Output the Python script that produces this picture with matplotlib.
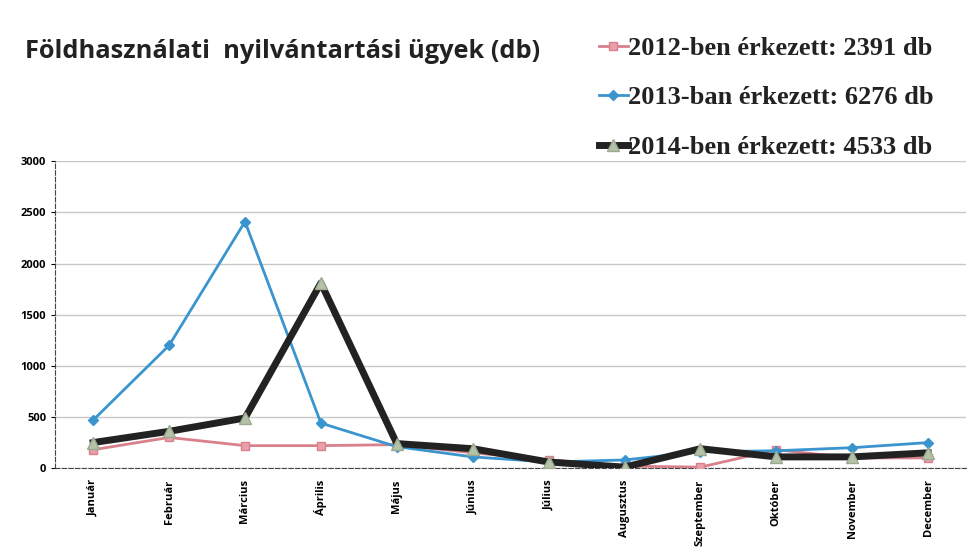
import matplotlib
matplotlib.use("Agg")
import matplotlib.pyplot as plt

months = ["Január", "Február", "Március", "Április", "Május", "Június",
          "Július", "Augusztus", "Szeptember", "Október", "November", "December"]
s2012 = [180, 300, 220, 220, 230, 150, 80, 20, 10, 180, 100, 100]
s2013 = [470, 1200, 2410, 440, 210, 110, 60, 80, 160, 170, 200, 250]
s2014 = [250, 360, 490, 1810, 240, 190, 60, 10, 190, 110, 110, 150]
labels = ["2012-ben érkezett: 2391 db", "2013-ban érkezett: 6276 db", "2014-ben érkezett: 4533 db"]
yticks = [0, 500, 1000, 1500, 2000, 2500, 3000]

fig = plt.figure(figsize=(9.69, 5.56), dpi=100)
ax = fig.add_axes([0.057, 0.158, 0.94, 0.552])
x = list(range(len(months)))

c12 = "#d9808c"
c13 = "#3a95cf"
c14 = "#222222"

l12, = ax.plot(x, s2012, color=c12, lw=2, marker="s", ms=6, mfc="#e8a0aa", mec=c12, zorder=3)
l13, = ax.plot(x, s2013, color=c13, lw=2, marker="D", ms=5, mfc=c13, mec=c13, zorder=4)
l14, = ax.plot(x, s2014, color=c14, lw=5, marker="^", ms=9, mfc="#b5c2a8", mec="#9aaa90", zorder=5)

ax.set_xlim(-0.5, 11.5)
ax.set_ylim(0, 3000)
ax.set_yticks(yticks)
ax.set_yticklabels([str(v) for v in yticks], fontsize=8, fontweight="bold", family="Open Sans")
ax.set_xticks(x)
ax.set_xticklabels(months, rotation=90, fontsize=8, fontweight="bold", family="Open Sans")
ax.grid(axis="y", color="#c8c8c8", lw=1)
ax.set_axisbelow(True)
for s in ["top", "right"]:
    ax.spines[s].set_visible(False)
ax.spines["left"].set_color("#444444")
ax.spines["left"].set_linestyle((0, (4, 2)))
ax.spines["bottom"].set_color("#444444")
ax.spines["bottom"].set_linestyle((0, (4, 2)))
ax.tick_params(axis="x", length=0, pad=8)
ax.tick_params(axis="y", length=3)

fig.text(0.026, 0.907, "Földhasználati  nyilvántartási ügyek (db)", fontsize=18.3,
         fontweight="bold", family="Open Sans", color="#222222", va="center")

leg = fig.legend([l12, l13, l14], labels, loc="upper left", bbox_to_anchor=(0.607, 0.953),
                 frameon=False, prop={"family": "Liberation Serif", "weight": "bold", "size": 19},
                 handlelength=1.1, handletextpad=0.0, labelspacing=0.98, borderaxespad=0)
for t in leg.get_texts():
    t.set_color("#222222")

fig.savefig("out.png", dpi=100)
